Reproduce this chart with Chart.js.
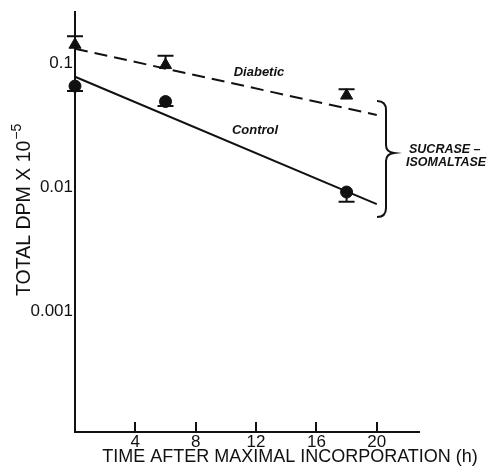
<!DOCTYPE html>
<html>
<head>
<meta charset="utf-8">
<script src="https://cdn.jsdelivr.net/npm/chart.js@4/dist/chart.umd.min.js"></script>
<style>
  html, body { margin: 0; padding: 0; background: #fff; }
  canvas { display: block; }
</style>
</head>
<body>
<canvas id="chart" width="494" height="472"></canvas>
<script>
// hours after maximal incorporation
const hours = [0, 6, 18];
const diabeticValues = [0.14, 0.096, 0.0545];
const diabeticErrTop = [0.164, 0.114, 0.0612];
const controlValues = [0.065, 0.0488, 0.0091];
const controlErrBottom = [0.0594, 0.045, 0.0076];

// fitted decay lines
const fitHours = [0, 20];
const diabeticFit = [0.13, 0.038];
const controlFit = [0.0773, 0.00727];

const xTicks = [4, 8, 12, 16, 20];
const yTicks = [0.1, 0.01, 0.001];
const yTickLabels = ['0.1', '0.01', '0.001'];

const ink = '#111';
const family = '"Liberation Sans", Arial, sans-serif';
Chart.defaults.font.family = family;
Chart.defaults.color = ink;

const toPoints = (xs, ys) => xs.map((h, i) => ({ x: h, y: ys[i] }));

// small error bars with a cap
const errorBars = {
    id: 'errorBars',
    afterDatasetsDraw(chart) {
        const { ctx, scales: { x, y } } = chart;
        ctx.save();
        ctx.strokeStyle = ink;
        ctx.lineWidth = 2;
        chart.data.datasets.forEach(ds => {
            if (!ds.errorTo) return;
            ds.data.forEach((p, i) => {
                const px = x.getPixelForValue(p.x);
                const py = y.getPixelForValue(p.y);
                const ey = y.getPixelForValue(ds.errorTo[i]);
                ctx.beginPath();
                ctx.moveTo(px, py);
                ctx.lineTo(px, ey);
                ctx.moveTo(px - 8, ey);
                ctx.lineTo(px + 8, ey);
                ctx.stroke();
            });
        });
        ctx.restore();
    }
};

// line labels, brace, axis titles
const notes = {
    id: 'notes',
    afterDraw(chart) {
        const ctx = chart.ctx;
        ctx.save();
        ctx.fillStyle = ink;
        ctx.strokeStyle = ink;

        ctx.font = 'italic bold 13px ' + family;
        ctx.textAlign = 'center';
        ctx.textBaseline = 'middle';
        ctx.fillText('Diabetic', 259, 72);
        ctx.fillText('Control', 255, 130);

        // brace
        ctx.lineWidth = 2;
        ctx.beginPath();
        ctx.moveTo(377, 101);
        ctx.quadraticCurveTo(386, 101, 386, 110);
        ctx.lineTo(386, 145);
        ctx.quadraticCurveTo(386, 152, 394, 153);
        ctx.quadraticCurveTo(386, 154, 386, 161);
        ctx.lineTo(386, 208);
        ctx.quadraticCurveTo(386, 217, 377, 217);
        ctx.stroke();

        ctx.font = 'italic bold 12.5px ' + family;
        ctx.textAlign = 'left';
        ctx.fillText('SUCRASE \u2013', 409, 150);
        ctx.fillText('ISOMALTASE', 406, 163);

        // x title
        ctx.font = '18px ' + family;
        ctx.textAlign = 'center';
        ctx.fillText('TIME AFTER MAXIMAL INCORPORATION (h)', 290, 457);

        // y title, rotated
        ctx.translate(25, 296);
        ctx.rotate(-Math.PI / 2);
        ctx.textAlign = 'left';
        ctx.font = '19.5px ' + family;
        const main = 'TOTAL DPM X 10';
        ctx.fillText(main, 0, 0);
        const w = ctx.measureText(main).width;
        ctx.font = '14px ' + family;
        ctx.fillText('\u22125', w + 1, -8);
        ctx.restore();
    }
};

new Chart(document.getElementById('chart'), {
    type: 'scatter',
    data: {
        datasets: [
            {
                label: 'Diabetic fit',
                data: toPoints(fitHours, diabeticFit),
                showLine: true,
                borderColor: ink,
                borderWidth: 2,
                borderDash: [13, 7],
                pointRadius: 0,
                clip: false
            },
            {
                label: 'Control fit',
                data: toPoints(fitHours, controlFit),
                showLine: true,
                borderColor: ink,
                borderWidth: 2,
                pointRadius: 0,
                clip: false
            },
            {
                label: 'Diabetic',
                data: toPoints(hours, diabeticValues),
                errorTo: diabeticErrTop,
                pointStyle: 'triangle',
                pointRadius: 7,
                backgroundColor: ink,
                borderColor: ink,
                borderWidth: 1,
                clip: false
            },
            {
                label: 'Control',
                data: toPoints(hours, controlValues),
                errorTo: controlErrBottom,
                pointStyle: 'circle',
                pointRadius: 6,
                backgroundColor: ink,
                borderColor: ink,
                borderWidth: 1,
                clip: false
            }
        ]
    },
    options: {
        responsive: false,
        animation: false,
        layout: { padding: { top: 9, right: 75, left: 0, bottom: 0 } },
        plugins: { legend: { display: false }, tooltip: { enabled: false } },
        scales: {
            x: {
                type: 'linear',
                min: 0,
                max: 22.8,
                bounds: 'data',
                grid: { drawOnChartArea: false, color: ink, lineWidth: 2, tickLength: -10 },
                border: { color: ink, width: 2 },
                ticks: { padding: 10, font: { size: 17 }, maxRotation: 0 },
                afterBuildTicks: s => { s.ticks = xTicks.map(v => ({ value: v })); },
                afterFit: s => { s.height = 40; }
            },
            y: {
                type: 'logarithmic',
                min: 0.000106,
                max: 0.256,
                bounds: 'data',
                grid: { display: false, drawTicks: false },
                border: { color: ink, width: 2 },
                ticks: {
                    padding: 2,
                    font: { size: 17 },
                    callback: v => {
                        const i = yTicks.indexOf(v);
                        return i >= 0 ? yTickLabels[i] : '';
                    }
                },
                afterBuildTicks: s => { s.ticks = yTicks.map(v => ({ value: v })); },
                afterFit: s => { s.width = 75; }
            }
        }
    },
    plugins: [errorBars, notes]
});
</script>
</body>
</html>
